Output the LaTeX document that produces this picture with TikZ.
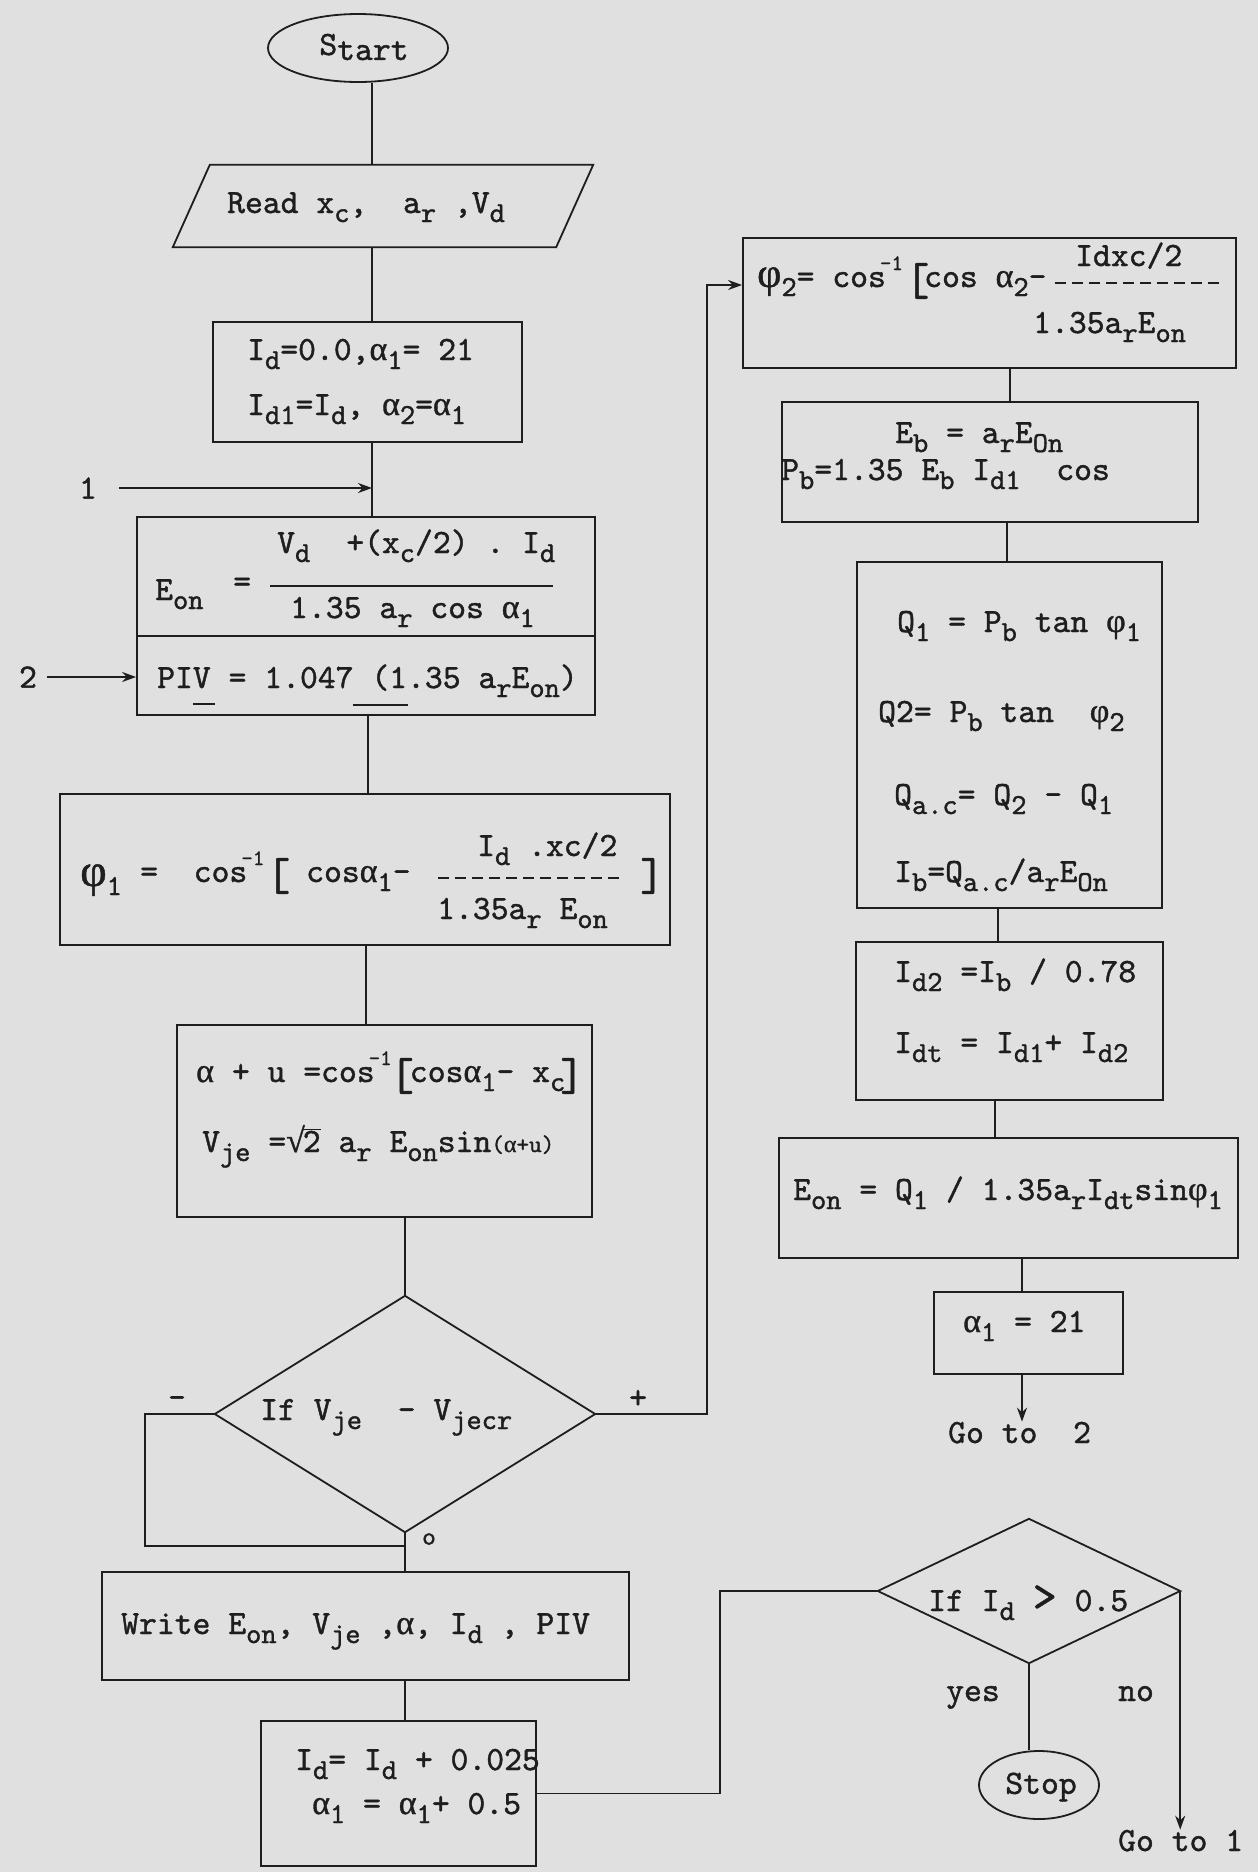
\documentclass[tikz,border=0pt]{standalone}
\usepackage{fontspec}
\setmonofont{lmmono10-regular.otf}[FakeBold=1.2]
\newfontfamily\grk{Liberation Serif}[FakeBold=1]
\usetikzlibrary{arrows.meta,shapes.geometric}
\definecolor{paper}{RGB}{224,224,224}
\definecolor{ink}{RGB}{30,30,30}
\newcommand\lowr[1]{\raisebox{-9pt}{\fontsize{29}{29}\selectfont #1}}
\newcommand\cosinv{\hspace{-6pt}\raisebox{17pt}{\fontsize{22}{22}\selectfont -1}}
\newcommand\bbr[1]{\raisebox{-8pt}{\fontsize{46}{46}\selectfont #1}}
\newcommand\alp{{\grk α}}
\newcommand\fii{{\grk φ}}
\begin{document}
\begin{tikzpicture}[x=1pt,y=-1pt,
  box/.style={draw=ink, line width=1.8pt, inner sep=0pt, rectangle},
  hold/.style={inner sep=0pt, rectangle},
  ln/.style={draw=ink, line width=1.8pt},
  dashbar/.style={draw=ink, line width=1.8pt, dash pattern=on 11pt off 6pt},
  tx/.style={inner sep=0pt, text=ink, font=\ttfamily\fontsize{34}{40}\selectfont},
  bt/.style={tx, anchor=base west},
  arr/.style={ln, -{Stealth[length=14pt,width=10pt]}}]
\fill[paper] (0,0) rectangle (1258,1872);
\useasboundingbox (0,0) rectangle (1258,1872);

% ---------- left column ----------
\node[box, ellipse, minimum width=180pt, minimum height=68pt] (start) at (358,48) {};
\node[tx] (startt) at (364,47) {S\raisebox{-5pt}{tart}};

\node[hold, minimum width=420pt, minimum height=82pt] (read) at (383,206) {};
\draw[ln] ([xshift=37pt]read.north west) -- (read.north east) -- ([xshift=-37pt]read.south east) -- (read.south west) -- cycle;
\node[bt] (readt) at (227,213) {Read x\lowr{c},\ \ a\lowr{r} ,V\lowr{d}};

\node[box, minimum width=309pt, minimum height=120pt] (idb) at (367.5,382) {};
\node[bt] (idb1) at (247,360) {I\lowr{d}=0.0,\alp\lowr{1}= 21};
\node[bt] (idb2) at (247,415) {I\lowr{d1}=I\lowr{d}, \alp\lowr{2}=\alp\lowr{1}};

\node[tx] (lab1) at (88,488) {1};

\node[box, minimum width=458pt, minimum height=198pt] (eon) at (366,616) {};
\node[bt] (eon1) at (155,600) {E\lowr{on}};
\node[bt] (eoneq) at (233,592) {=};
\node[bt] (eon3) at (277,553) {V\lowr{d}\hspace{36pt}+(x\lowr{c}/2) . I\lowr{d}};
\node[bt] (eon4) at (290,618) {1.35 a\lowr{r} cos \alp\lowr{1}};
\node[tx] (lab2) at (28,677) {2};
\node[bt] (piv) at (157,688) {PIV = 1.047 (1.35 a\lowr{r}E\lowr{on})};

\node[box, minimum width=610pt, minimum height=151pt] (phi1) at (365,869.5) {};
\node[bt] (phi1a) at (80,886) {{\fontsize{46}{46}\selectfont\fii}\lowr{1}};
\node[bt] (phi1b) at (140,882) {=\ \ cos\cosinv};
\node[bt] (phi1c) at (266,882) {\bbr{[}};
\node[bt] (phi1d) at (306,882) {cos\alp\lowr{1}-};
\node[bt] (phi1n) at (477,856) {I\lowr{d} .xc/2};
\node[bt] (phi1o) at (437,919) {1.35a\lowr{r} E\lowr{on}};
\node[bt] (phi1e) at (640,882) {\bbr{]}};

\node[box, minimum width=415pt, minimum height=192pt] (aub) at (384.5,1121) {};
\node[bt] (aub1) at (196,1082) {\alp{} + u =cos\cosinv\hspace{-2pt}\bbr{[}\hspace{-4pt}cos\alp\lowr{1}- x\lowr{c}\hspace{-5pt}\bbr{]}};
\node[bt] (aub2) at (202,1152) {V\lowr{je} ={\grk √}\kern-2pt$\overline{\hbox{2}}$ a\lowr{r} E\lowr{on}sin{\fontsize{24}{24}\selectfont (\alp+u)}};

\node[hold, minimum width=380pt, minimum height=236pt] (dia1) at (405,1414) {};
\draw[ln] (dia1.north) -- (dia1.east) -- (dia1.south) -- (dia1.west) -- cycle;
\node[bt] (dia1t) at (260,1420) {If V\lowr{je}\ \ - V\lowr{jecr}};
\node[tx] (minus) at (177,1402) {-};
\node[tx] (plus) at (638,1399) {+};
\node[tx, font=\ttfamily\fontsize{26}{26}\selectfont] (zero) at (429,1539) {o};

\node[box, minimum width=527pt, minimum height=108pt] (write) at (365.5,1626) {};
\node[bt] (writet) at (121,1634) {Write E\lowr{on}, V\lowr{je} ,\alp, I\lowr{d} , PIV};

\node[box, minimum width=275pt, minimum height=145pt] (inc) at (398.5,1793.5) {};
\node[bt] (inc1) at (295,1770) {I\lowr{d}= I\lowr{d} + 0.025};
\node[bt] (inc2) at (312,1814) {\alp\lowr{1} = \alp\lowr{1}+ 0.5};

% ---------- right column ----------
\node[box, minimum width=493pt, minimum height=130pt] (phi2) at (989.5,303) {};
\node[bt] (phi2a) at (757,287) {{\fontsize{42}{42}\selectfont\fii}\lowr{2}= cos\cosinv};
\node[bt] (phi2b) at (905,287) {\bbr{[}};
\node[bt] (phi2c) at (924,287) {cos \alp\lowr{2}-};
\node[bt] (phi2n) at (1075,266) {Idxc/2};
\node[bt] (phi2o) at (1033,333) {1.35a\lowr{r}E\lowr{on}};

\node[box, minimum width=416pt, minimum height=120pt] (ebox) at (990,462) {};
\node[bt] (eb1) at (895,443) {E\lowr{b} = a\lowr{r}E\lowr{On}};
\node[bt] (eb2) at (781,480) {P\lowr{b}=1.35 E\lowr{b} I\lowr{d1}\ \ cos};

\node[box, minimum width=305pt, minimum height=346pt] (qbox) at (1009.5,735) {};
\node[bt] (q1) at (897,632) {Q\lowr{1} = P\lowr{b} tan \fii\lowr{1}};
\node[bt] (q2) at (878,722) {Q2= P\lowr{b} tan\ \ \fii\lowr{2}};
\node[bt] (q3) at (894,805) {Q\lowr{a.c}= Q\lowr{2} - Q\lowr{1}};
\node[bt] (q4) at (894,882) {I\lowr{b}=Q\lowr{a.c}/a\lowr{r}E\lowr{On}};

\node[box, minimum width=307pt, minimum height=158pt] (id2) at (1009.5,1021) {};
\node[bt] (id2a) at (894,982) {I\lowr{d2} =I\lowr{b} / 0.78};
\node[bt] (id2b) at (894,1053) {I\lowr{dt} = I\lowr{d1}+ I\lowr{d2}};

\node[box, minimum width=459pt, minimum height=120pt] (eon2) at (1008.5,1198) {};
\node[bt] (eon2t) at (793,1200) {E\lowr{on} = Q\lowr{1} / 1.35a\lowr{r}I\lowr{dt}sin\fii\lowr{1}};

\node[box, minimum width=189pt, minimum height=82pt] (alf) at (1028.5,1333) {};
\node[bt] (alft) at (963,1332) {\alp\lowr{1} = 21};
\node[bt] (goto2) at (948,1443) {Go to\ \ 2};

\node[hold, minimum width=302pt, minimum height=144pt] (dia2) at (1029,1591) {};
\draw[ln] (dia2.north) -- (dia2.east) -- (dia2.south) -- (dia2.west) -- cycle;
\node[bt] (dia2t) at (928,1611) {If I\lowr{d} {\fontsize{46}{46}\selectfont >} 0.5};
\node[bt] (yes) at (946,1701) {yes};
\node[bt] (no) at (1118,1701) {no};
\node[box, ellipse, minimum width=120pt, minimum height=68pt] (stop) at (1039,1785) {};
\node[tx] (stopt) at (1041,1787) {Stop};
\node[bt] (goto1) at (1118,1851) {Go to 1};

% ---------- fraction bars and marks ----------
\draw[ln] (270,586) -- (553,586);
\draw[dashbar] (438,878) -- (623,878);
\draw[dashbar] (1055,283) -- (1222,283);
\draw[ln, line width=1.3pt] (193,704) -- (215,704);
\draw[ln, line width=1.3pt] (353,705) -- (408,705);
\draw[ln] ([yshift=-20pt]eon.west) -- ([yshift=-20pt]eon.east);

% ---------- connectors ----------
\coordinate (L1) at (372,0);
\coordinate (L2) at (368,0);
\coordinate (L3) at (366,0);
\draw[ln] (start.south -| L1) -- (read.north -| L1);
\draw[ln] (read.south -| L1) -- (idb.north -| L1);
\draw[ln] (idb.south -| L1) -- (eon.north -| L1);
\draw[arr] ([xshift=22pt]lab1.east) -- (lab1.east -| L1);
\draw[arr] ([xshift=10pt]lab2.east) -- (eon.west |- lab2.east);
\draw[ln] (eon.south -| L2) -- (phi1.north -| L2);
\draw[ln] (phi1.south -| L3) -- (aub.north -| L3);
\draw[ln] (aub.south -| dia1.north) -- (dia1.north);
\coordinate (mlc) at (145,1546);
\coordinate (mj) at (405,1546);
\draw[ln] (dia1.west) -| (mlc) -- (mj);
\draw[ln] (dia1.south) -- (write.north -| dia1.south);
\draw[ln] (write.south -| dia1.south) -- (inc.north -| dia1.south);
\coordinate (c3) at (720,1700);
\draw[ln] (inc.east) -| (c3) |- (dia2.west);
\coordinate (feed) at (707,1414);
\draw[arr] (dia1.east) -- (feed) |- ([yshift=18pt]phi2.west);

\coordinate (R1) at (1010,0);
\coordinate (R2) at (1007,0);
\coordinate (R3) at (998,0);
\coordinate (R4) at (995,0);
\coordinate (R5) at (1022,0);
\draw[ln] (phi2.south -| R1) -- (ebox.north -| R1);
\draw[ln] (ebox.south -| R2) -- (qbox.north -| R2);
\draw[ln] (qbox.south -| R3) -- (id2.north -| R3);
\draw[ln] (id2.south -| R4) -- (eon2.north -| R4);
\draw[ln] (eon2.south -| R5) -- (alf.north -| R5);
\draw[arr] (alf.south -| R5) -- (goto2.north -| R5);
\draw[ln] (dia2.south) -- (stop.north -| dia2.south);
\draw[arr] (dia2.east) -- (goto1.north -| dia2.east);
\end{tikzpicture}
\end{document}
